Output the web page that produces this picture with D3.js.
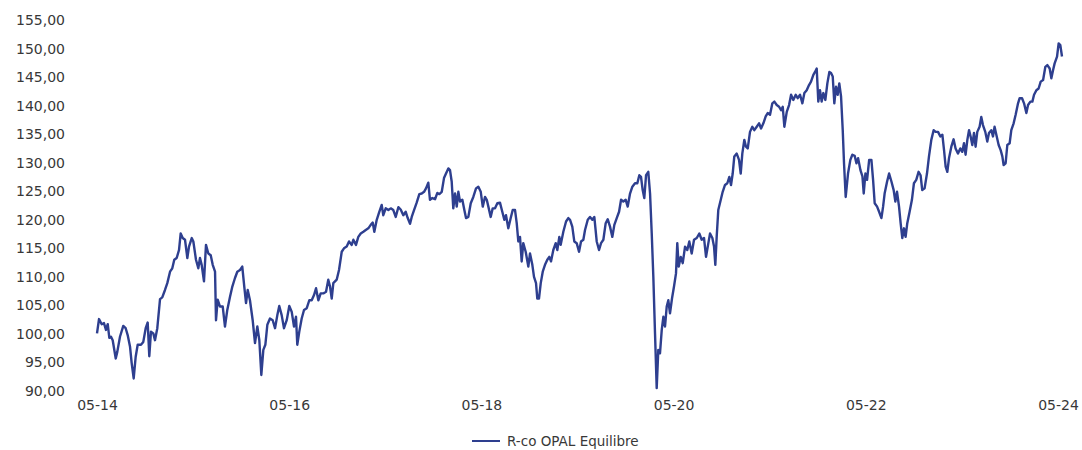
<!DOCTYPE html>
<html>
<head>
<meta charset="utf-8">
<script src="https://cdn.jsdelivr.net/npm/d3@7"></script>
<style>
  body { margin: 0; background: #fff; }
  text { font-family: "DejaVu Sans", sans-serif; fill: #383838; }
</style>
</head>
<body>
<div id="chart"></div>
<script>
const svgWidth = 1082;
const svgHeight = 450;

// months since May 2014
const months = [
  0.0, 0.25, 0.59, 0.87, 1.12, 1.34, 1.54, 1.75, 1.96, 2.34, 2.54, 2.87, 3.28, 3.58, 3.83, 4.12, 4.33, 4.58, 4.83, 5.08,
  5.49, 5.78, 6.08, 6.33, 6.53, 6.74, 7.03, 7.24, 7.53, 7.87, 8.15, 8.49, 8.78, 9.12, 9.40, 9.65, 9.95, 10.24, 10.45, 10.70,
  10.99, 11.28, 11.49, 11.83, 12.03, 12.36, 12.65, 12.86, 13.07, 13.36, 13.61, 13.90, 14.20, 14.45, 14.74, 14.86, 15.07, 15.36, 15.70, 15.98,
  16.27, 16.61, 16.90, 17.23, 17.52, 17.86, 18.14, 18.39, 18.61, 18.82, 19.10, 19.44, 19.73, 20.02, 20.27, 20.52, 20.77, 21.02, 21.27, 21.60,
  21.94, 22.23, 22.52, 22.76, 23.06, 23.35, 23.69, 24.01, 24.31, 24.60, 24.85, 25.01, 25.26, 25.56, 25.85, 26.19, 26.51, 26.81, 27.10, 27.35,
  27.64, 27.93, 28.26, 28.60, 28.88, 29.10, 29.31, 29.51, 29.93, 30.22, 30.56, 30.84, 31.18, 31.47, 31.81, 32.01, 32.34, 32.63, 32.93, 33.26,
  33.56, 33.88, 34.18, 34.43, 34.63, 34.93, 35.25, 35.55, 35.75, 36.05, 36.38, 36.68, 37.00, 37.30, 37.63, 37.92, 38.25, 38.55, 38.80, 39.09,
  39.30, 39.59, 39.92, 40.25, 40.55, 40.84, 41.08, 41.37, 41.58, 41.87, 42.21, 42.50, 42.75, 43.05, 43.33, 43.58, 43.87, 44.08, 44.29, 44.49,
  44.71, 44.92, 45.12, 45.33, 45.62, 45.87, 46.08, 46.37, 46.67, 46.99, 47.33, 47.62, 47.92, 48.17, 48.45, 48.67, 48.87, 49.16, 49.41, 49.70,
  49.99, 50.32, 50.61, 50.86, 51.07, 51.36, 51.66, 51.91, 52.20, 52.41, 52.61, 52.82, 53.03, 53.23, 53.53, 53.86, 54.07, 54.36, 54.57, 54.82,
  54.98, 55.19, 55.41, 55.66, 55.94, 56.23, 56.48, 56.69, 56.98, 57.28, 57.48, 57.73, 57.90, 58.23, 58.57, 58.85, 59.07, 59.35, 59.60, 59.90,
  60.19, 60.44, 60.73, 60.94, 61.28, 61.56, 61.85, 62.10, 62.40, 62.69, 62.94, 63.23, 63.52, 63.77, 64.06, 64.35, 64.60, 64.90, 65.19, 65.44,
  65.72, 66.02, 66.27, 66.56, 66.85, 67.18, 67.47, 67.72, 67.93, 68.14, 68.34, 68.56, 68.84, 69.06, 69.27, 69.47, 69.68, 69.89, 70.09, 70.30,
  70.52, 70.72, 70.93, 71.14, 71.34, 71.55, 71.80, 72.05, 72.30, 72.46, 72.64, 72.89, 73.14, 73.43, 73.71, 73.96, 74.26, 74.55, 74.89, 75.21,
  75.51, 75.80, 76.05, 76.34, 76.55, 76.84, 77.05, 77.21, 77.38, 77.58, 77.89, 78.13, 78.42, 78.71, 78.96, 79.17, 79.38, 79.58, 79.88, 80.17,
  80.38, 80.58, 80.83, 81.04, 81.26, 81.54, 81.83, 82.08, 82.38, 82.67, 82.92, 83.21, 83.50, 83.75, 84.04, 84.33, 84.58, 84.88, 85.17, 85.42,
  85.63, 85.83, 86.13, 86.42, 86.67, 86.95, 87.25, 87.50, 87.79, 88.08, 88.33, 88.62, 88.91, 89.16, 89.45, 89.66, 89.87, 90.07, 90.28, 90.49,
  90.70, 90.95, 91.20, 91.45, 91.66, 91.87, 92.07, 92.28, 92.49, 92.69, 92.91, 93.12, 93.28, 93.49, 93.78, 94.07, 94.32, 94.61, 94.83, 95.04,
  95.33, 95.58, 95.74, 95.95, 96.16, 96.42, 96.70, 96.91, 97.11, 97.41, 97.66, 97.95, 98.16, 98.35, 98.66, 98.91, 99.20, 99.48, 99.69, 99.90,
  100.15, 100.35, 100.56, 100.77, 100.97, 101.18, 101.47, 101.76, 102.01, 102.30, 102.59, 102.84, 103.05, 103.34, 103.64, 103.89, 104.18, 104.47, 104.72, 105.02,
  105.31, 105.56, 105.77, 105.97, 106.18, 106.39, 106.68, 106.96, 107.21, 107.51, 107.80, 108.05, 108.26, 108.46, 108.68, 108.89, 109.09, 109.30, 109.51, 109.71,
  109.92, 110.21, 110.42, 110.63, 110.92, 111.17, 111.38, 111.67, 111.88, 112.08, 112.30, 112.59, 112.84, 113.05, 113.21, 113.46, 113.67, 113.96, 114.17, 114.46,
  114.71, 115.01, 115.21, 115.51, 115.76, 116.05, 116.26, 116.55, 116.80, 117.01, 117.30, 117.58, 117.84, 118.14, 118.42, 118.67, 118.96, 119.17, 119.38, 119.58,
  119.88, 120.08, 120.29, 120.50
];

const values = [
  100.1, 102.6, 101.7, 101.9, 100.7, 101.7, 99.3, 99.5, 98.9, 95.7, 96.9, 99.5, 101.4, 101.0, 99.8, 97.8, 94.9, 92.2, 96.0, 98.1,
  98.1, 98.6, 101.0, 102.0, 96.1, 100.4, 100.1, 98.9, 101.0, 106.1, 106.4, 107.7, 108.9, 110.9, 111.5, 113.0, 113.3, 114.7, 117.6, 116.8,
  116.5, 113.3, 115.3, 116.8, 116.2, 113.0, 111.5, 113.3, 112.1, 109.2, 115.6, 114.1, 113.8, 112.1, 110.9, 102.4, 106.0, 104.8, 104.8, 101.3,
  104.2, 106.5, 108.3, 109.8, 110.9, 111.2, 111.8, 108.3, 105.4, 107.7, 105.9, 102.4, 98.4, 101.3, 98.9, 92.8, 97.2, 98.1, 101.6, 102.7,
  102.4, 101.0, 103.3, 104.9, 103.3, 101.0, 102.4, 104.9, 103.9, 101.3, 103.0, 98.1, 100.4, 102.7, 104.2, 104.5, 105.9, 105.9, 106.8, 108.0,
  105.9, 107.1, 107.1, 107.4, 109.5, 108.3, 106.2, 108.9, 109.5, 111.2, 114.4, 115.0, 115.3, 116.2, 115.6, 116.5, 115.6, 117.0, 117.6, 117.9,
  118.2, 118.5, 119.1, 119.5, 117.9, 120.0, 121.4, 122.6, 120.8, 122.0, 121.7, 122.0, 121.7, 120.5, 122.2, 121.8, 120.8, 121.4, 120.3, 119.3,
  120.5, 121.7, 123.0, 124.5, 124.6, 124.9, 125.5, 126.5, 123.5, 123.8, 123.6, 124.7, 124.5, 124.9, 127.3, 128.1, 129.0, 128.7, 126.7, 122.0,
  124.6, 122.3, 124.9, 123.2, 123.5, 121.7, 120.3, 120.5, 122.9, 124.0, 125.5, 125.8, 124.9, 122.3, 124.0, 123.5, 122.3, 120.5, 122.0, 122.0,
  122.9, 123.0, 121.4, 120.0, 120.8, 118.5, 120.3, 121.7, 121.7, 119.4, 116.2, 117.0, 112.7, 115.9, 114.4, 111.8, 114.1, 112.1, 110.0, 108.9,
  106.2, 106.2, 108.9, 110.9, 112.1, 113.0, 113.5, 112.7, 114.7, 115.9, 114.7, 117.0, 115.6, 117.9, 119.7, 120.3, 120.0, 118.8, 116.2, 115.9,
  114.4, 116.2, 116.5, 118.2, 120.0, 120.5, 120.0, 120.5, 116.2, 114.7, 115.9, 116.5, 119.4, 120.1, 118.8, 117.0, 119.1, 120.3, 121.4, 123.5,
  123.2, 123.5, 122.3, 124.6, 125.8, 126.4, 126.4, 127.8, 127.5, 125.2, 123.8, 127.8, 128.4, 124.6, 117.6, 110.0, 100.1, 90.5, 97.2, 96.6,
  100.7, 103.0, 101.3, 104.8, 105.9, 103.6, 106.2, 108.3, 110.6, 115.9, 111.8, 113.5, 112.4, 115.3, 114.7, 116.2, 114.1, 116.5, 116.8, 117.6,
  116.5, 116.8, 113.5, 115.9, 117.6, 116.8, 115.3, 112.1, 117.0, 121.7, 123.5, 124.9, 126.1, 126.4, 127.5, 126.1, 128.1, 131.1, 131.6, 130.5,
  128.1, 131.6, 134.0, 132.8, 132.5, 135.4, 136.3, 135.7, 136.3, 136.9, 136.0, 136.9, 138.1, 138.7, 138.4, 140.4, 140.7, 140.1, 139.8, 139.2,
  139.8, 136.3, 138.9, 140.1, 141.9, 141.0, 141.9, 141.3, 141.9, 140.4, 142.2, 142.7, 143.6, 144.2, 145.4, 145.9, 146.5, 140.7, 142.7, 140.7,
  142.2, 141.0, 143.9, 145.9, 145.7, 145.1, 140.4, 143.3, 141.9, 143.9, 141.6, 135.7, 129.9, 124.0, 128.1, 130.5, 131.4, 131.2, 129.9, 130.8,
  128.7, 127.6, 124.6, 128.1, 127.0, 130.5, 130.5, 127.0, 122.9, 122.3, 121.4, 120.3, 122.3, 124.6, 126.7, 128.1, 126.7, 125.2, 123.2, 124.9,
  122.3, 119.4, 116.8, 118.5, 117.0, 119.4, 121.4, 123.5, 126.4, 127.0, 128.4, 127.8, 125.2, 125.5, 128.1, 131.1, 134.0, 135.7, 135.4, 135.4,
  134.6, 134.9, 132.2, 129.3, 128.4, 130.8, 132.8, 134.1, 132.5, 131.6, 132.5, 131.9, 133.4, 131.4, 134.0, 135.7, 134.6, 133.1, 135.2, 132.8,
  135.4, 136.3, 138.0, 136.6, 135.4, 133.7, 135.2, 135.7, 134.6, 136.3, 134.9, 133.1, 132.2, 131.1, 129.6, 129.9, 133.1, 133.4, 135.7, 136.9,
  138.4, 140.4, 141.3, 141.3, 140.4, 138.7, 140.1, 140.7, 140.7, 141.9, 142.7, 143.0, 144.2, 144.5, 146.8, 147.1, 146.5, 144.8, 146.2, 147.4,
  148.6, 150.9, 150.6, 148.6
];

const yTicks = [90, 95, 100, 105, 110, 115, 120, 125, 130, 135, 140, 145, 150, 155];
const xTicks = [0, 24, 48, 72, 96, 120];
const xTickLabels = ["05-14", "05-16", "05-18", "05-20", "05-22", "05-24"];
const seriesName = "R-co OPAL Equilibre";

const lineData = months.map((m, i) => ({ m: m, v: values[i] }));

const svg = d3.select("#chart")
  .append("svg")
  .attr("width", svgWidth)
  .attr("height", svgHeight);

// scales
const xScale = d3.scaleLinear().domain([0, 120]).range([97, 1058]);
const yScale = d3.scaleLinear().domain([90, 155]).range([391, 20]);

// y axis, labels only
const yAxis = d3.axisLeft(yScale)
  .tickValues(yTicks)
  .tickSize(0)
  .tickPadding(0)
  .tickFormat(d => d3.format(".2f")(d).replace(".", ","));

svg.append("g")
  .attr("transform", "translate(65,0)")
  .call(yAxis)
  .call(g => g.select(".domain").remove())
  .selectAll("text")
  .attr("font-size", 14)
  .attr("font-family", "DejaVu Sans, sans-serif")
  .attr("fill", "#383838");

// x axis, labels only
const xAxis = d3.axisBottom(xScale)
  .tickValues(xTicks)
  .tickSize(0)
  .tickPadding(0)
  .tickFormat((d, i) => xTickLabels[i]);

svg.append("g")
  .attr("transform", "translate(0,400)")
  .call(xAxis)
  .call(g => g.select(".domain").remove())
  .selectAll("text")
  .attr("font-size", 14)
  .attr("font-family", "DejaVu Sans, sans-serif")
  .attr("fill", "#383838");

// the line
const line = d3.line()
  .x(d => xScale(d.m))
  .y(d => yScale(d.v));

svg.append("path")
  .datum(lineData)
  .attr("fill", "none")
  .attr("stroke", "#2e3f8f")
  .attr("stroke-width", 2.4)
  .attr("stroke-linejoin", "round")
  .attr("d", line);

// legend
const legend = svg.append("g").attr("transform", "translate(472,441)");
legend.append("line")
  .attr("x1", 0).attr("x2", 28)
  .attr("y1", 0).attr("y2", 0)
  .attr("stroke", "#2e3f8f")
  .attr("stroke-width", 2);
legend.append("text")
  .attr("x", 35)
  .attr("y", 0)
  .attr("dy", "0.35em")
  .attr("font-size", 13.5)
  .text(seriesName);
</script>
</body>
</html>
